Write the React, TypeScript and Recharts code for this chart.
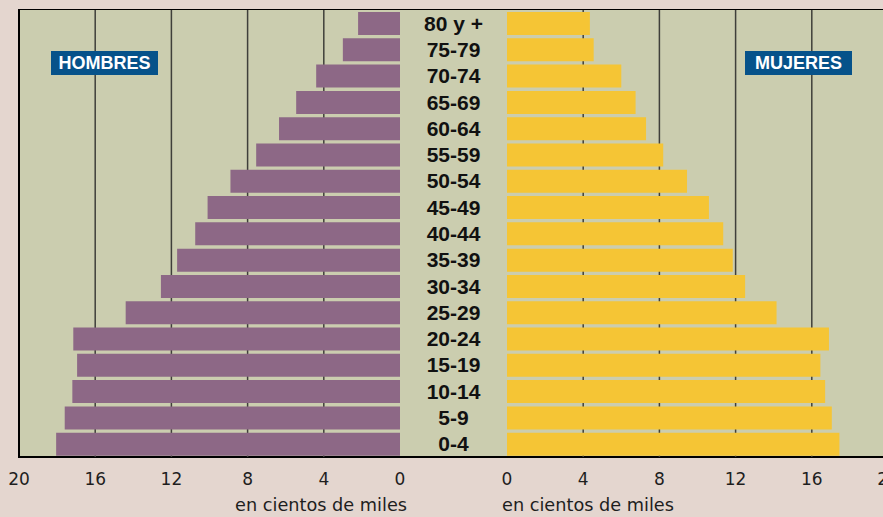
import { BarChart, Bar, XAxis, YAxis, CartesianGrid } from 'recharts';

const AGES = [
  '80 y +', '75-79', '70-74', '65-69', '60-64', '55-59', '50-54', '45-49', '40-44',
  '35-39', '30-34', '25-29', '20-24', '15-19', '10-14', '5-9', '0-4',
];
// en cientos de miles
const HOMBRES = [2.2, 3.0, 4.4, 5.45, 6.35, 7.55, 8.9, 10.1, 10.75, 11.7, 12.55, 14.4, 17.15, 16.95, 17.2, 17.6, 18.05];
const MUJERES = [4.35, 4.55, 6.0, 6.75, 7.3, 8.2, 9.45, 10.6, 11.35, 11.85, 12.5, 14.15, 16.9, 16.45, 16.7, 17.05, 17.45];
const TICKS = [0, 4, 8, 12, 16, 20];
const GRID_VALUES = [4, 8, 12, 16];

const data = AGES.map((age, i) => ({ age, hombres: HOMBRES[i], mujeres: MUJERES[i] }));

const PAGE_BG = '#E4D6CF';
const PLOT_BG = '#CBCDAF';
const MEN_COLOR = '#8D6886';
const WOMEN_COLOR = '#F5C535';
const LABEL_BLUE = '#06528A';
const GRID_COLOR = '#3f3f3a';

const tickStyle = { fontSize: 17, fill: '#1e1e1e', fontFamily: '"DejaVu Sans", sans-serif' };

const CENTER_X = 453.5;

function AgeTick(props: any) {
  const { y, payload } = props;
  return (
    <text
      x={CENTER_X}
      y={y}
      dy={0}
      textAnchor="middle"
      dominantBaseline="central"
      fontFamily='"Liberation Sans", Arial, sans-serif'
      fontWeight="bold"
      fontSize={21}
      fill="#111"
    >
      {payload.value}
    </text>
  );
}

const tagStyle: React.CSSProperties = {
  position: 'absolute',
  top: 51,
  height: 24,
  width: 107,
  background: LABEL_BLUE,
  color: '#fff',
  fontFamily: '"Liberation Sans", Arial, sans-serif',
  fontWeight: 'bold',
  fontSize: 18,
  lineHeight: '24px',
  textAlign: 'center',
};

const unitStyle: React.CSSProperties = {
  position: 'absolute',
  top: 495,
  fontFamily: '"DejaVu Sans", sans-serif',
  fontSize: 17.7,
  lineHeight: '20px',
  color: '#1e1e1e',
  whiteSpace: 'nowrap',
};

export default function App() {
  return (
    <div
      style={{
        position: 'absolute',
        left: 0,
        top: 0,
        width: 883,
        height: 517,
        background: PAGE_BG,
        overflow: 'hidden',
      }}
    >
      {/* plot frame */}
      <div
        style={{
          position: 'absolute',
          left: 18,
          top: 9,
          width: 900,
          height: 449,
          boxSizing: 'border-box',
          background: PLOT_BG,
          borderLeft: '2px solid #000',
          borderTop: '1.5px solid #000',
          borderBottom: '2px solid #000',
        }}
      />

      {/* hombres */}
      <div style={{ position: 'absolute', left: 0, top: 0 }}>
        <BarChart
          width={507}
          height={517}
          data={data}
          layout="vertical"
          margin={{ top: 10, right: 0, left: 19, bottom: 30 }}
          barSize={23}
        >
          <CartesianGrid horizontal={false} verticalValues={GRID_VALUES} stroke={GRID_COLOR} strokeWidth={1.5} />
          <XAxis
            type="number"
            domain={[0, 20]}
            ticks={TICKS}
            reversed
            height={30}
            axisLine={false}
            tickLine={false}
            tickMargin={10}
            tick={tickStyle}
            interval={0}
          />
          <YAxis
            type="category"
            dataKey="age"
            orientation="right"
            width={107}
            axisLine={false}
            tickLine={false}
            tick={<AgeTick />}
            interval={0}
          />
          <Bar dataKey="hombres" fill={MEN_COLOR} isAnimationActive={false} />
        </BarChart>
      </div>

      {/* mujeres */}
      <div style={{ position: 'absolute', left: 487, top: 0 }}>
        <BarChart
          width={420}
          height={517}
          data={data}
          layout="vertical"
          margin={{ top: 10, right: 19, left: 20, bottom: 30 }}
          barSize={23}
        >
          <CartesianGrid horizontal={false} verticalValues={GRID_VALUES} stroke={GRID_COLOR} strokeWidth={1.5} />
          <XAxis
            type="number"
            domain={[0, 20]}
            ticks={TICKS}
            height={30}
            axisLine={false}
            tickLine={false}
            tickMargin={10}
            tick={tickStyle}
            interval={0}
          />
          <YAxis type="category" dataKey="age" hide />
          <Bar dataKey="mujeres" fill={WOMEN_COLOR} isAnimationActive={false} />
        </BarChart>
      </div>

      <div style={{ ...tagStyle, left: 51 }}>HOMBRES</div>
      <div style={{ ...tagStyle, left: 745 }}>MUJERES</div>

      <div style={{ ...unitStyle, left: 200, width: 207, textAlign: 'right' }}>en cientos de miles</div>
      <div style={{ ...unitStyle, left: 502 }}>en cientos de miles</div>
    </div>
  );
}
